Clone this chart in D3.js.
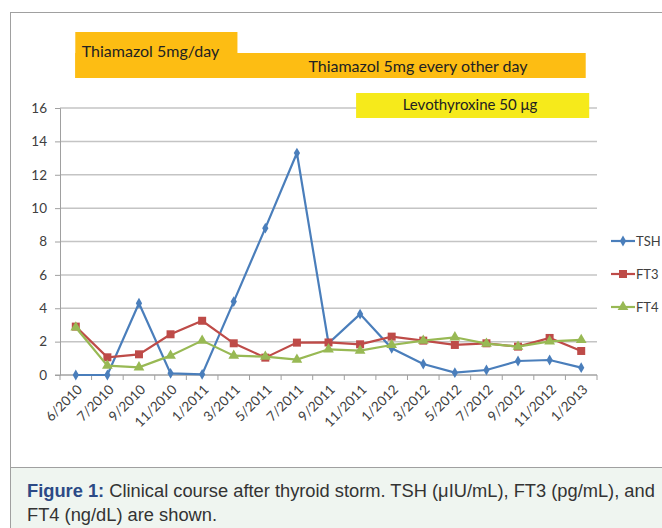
<!DOCTYPE html>
<html>
<head>
<meta charset="utf-8">
<script src="https://cdn.jsdelivr.net/npm/d3@7"></script>
<style>
  body { margin: 0; background: #fff; }
  svg text { font-family: Lato, "Open Sans", sans-serif; }
  .caption text { font-family: "Liberation Sans", Arial, sans-serif; }
</style>
</head>
<body>
<div id="chart"></div>
<script>
// ---- data ----
let months = ["6/2010", "7/2010", "9/2010", "11/2010", "1/2011", "3/2011", "5/2011", "7/2011", "9/2011",
    "11/2011", "1/2012", "3/2012", "5/2012", "7/2012", "9/2012", "11/2012", "1/2013"];
let tsh = [0.0, 0.0, 4.3, 0.1, 0.04, 4.4, 8.8, 13.3, 1.9, 3.65, 1.6, 0.66, 0.14, 0.3, 0.84, 0.9, 0.44];
let ft3 = [2.9, 1.06, 1.24, 2.44, 3.25, 1.9, 1.04, 1.94, 1.95, 1.84, 2.3, 2.06, 1.8, 1.9, 1.7, 2.22, 1.44];
let ft4 = [2.85, 0.56, 0.46, 1.16, 2.06, 1.16, 1.1, 0.92, 1.54, 1.46, 1.8, 2.06, 2.26, 1.88, 1.7, 2.02, 2.1];
let yTicks = [0, 2, 4, 6, 8, 10, 12, 14, 16];

// treatment periods (first / last month index covered)
let treatments = [
    {label: "Thiamazol 5mg/day", from: 0, to: 5, color: "#fdbd13"},
    {label: "Thiamazol 5mg every other day", from: 0, to: 16, color: "#fdbd13"},
    {label: "Levothyroxine 50 \u03bcg", from: 9, to: 16, color: "#f6ea1b"}
];

let series = [
    {name: "TSH", values: tsh, color: "#4a7ebb", shape: d3.symbolDiamond, size: 34},
    {name: "FT3", values: ft3, color: "#be4b48", shape: d3.symbolSquare, size: 64},
    {name: "FT4", values: ft4, color: "#98b954", shape: d3.symbolTriangle, size: 50}
];

let W = 662, H = 528;
let margin = {top: 108, left: 60};
let width = 537, height = 267;

let svg = d3.select("#chart").append("svg")
    .attr("width", W)
    .attr("height", H);

// outer frame
svg.append("rect")
    .attr("x", 10.5).attr("y", 12.5)
    .attr("width", W).attr("height", 455)
    .attr("fill", "#fff")
    .attr("stroke", "#a0a0a0");

let g = svg.append("g")
    .attr("transform", `translate(${margin.left}, ${margin.top})`);

// scales
let x = d3.scaleBand()
    .domain(months)
    .range([0, width]);

let y = d3.scaleLinear()
    .domain([0, 16])
    .range([height, 0]);

// gridlines
g.append("g")
    .selectAll("line")
    .data(yTicks)
    .enter()
    .append("line")
    .attr("x1", 0).attr("x2", width)
    .attr("y1", d => y(d)).attr("y2", d => y(d))
    .attr("stroke", "#c4c4c4")
    .attr("stroke-width", 1.5);

// treatment boxes (drawn in chart space with the band scale)
let boxX = (i) => x(months[i]) + x.bandwidth() / 2;
// orange: stepped shape
g.append("rect")
    .attr("x", boxX(0) - 0.5).attr("y", 32 - margin.top)
    .attr("width", x(months[treatments[0].to]) + 20 - boxX(0)).attr("height", 46)
    .attr("fill", treatments[0].color);
g.append("rect")
    .attr("x", boxX(0) - 0.5).attr("y", 53 - margin.top)
    .attr("width", boxX(treatments[1].to) + 5 - boxX(0)).attr("height", 25)
    .attr("fill", treatments[1].color);
g.append("text")
    .attr("x", boxX(0) + 6).attr("y", 57 - margin.top)
    .attr("font-size", 16).attr("fill", "#222")
    .text(treatments[0].label);
g.append("text")
    .attr("x", 418 - margin.left).attr("y", 72 - margin.top)
    .attr("text-anchor", "middle")
    .attr("font-size", 16).attr("fill", "#222")
    .text(treatments[1].label);
// yellow
g.append("rect")
    .attr("x", boxX(treatments[2].from) - 4).attr("y", 93 - margin.top)
    .attr("width", boxX(treatments[2].to) + 12 - boxX(treatments[2].from)).attr("height", 25)
    .attr("fill", treatments[2].color);
g.append("text")
    .attr("x", 470 - margin.left).attr("y", 110 - margin.top)
    .attr("text-anchor", "middle")
    .attr("font-size", 15).attr("fill", "#222")
    .text(treatments[2].label);

// axes
let yAxis = d3.axisLeft(y).tickValues(yTicks).tickSize(5).tickPadding(8);
let yAxisG = g.append("g").attr("class", "y-axis").call(yAxis);
yAxisG.select(".domain").attr("stroke", "#a0a0a0");
yAxisG.selectAll(".tick line").attr("stroke", "#a0a0a0");
yAxisG.selectAll("text").attr("font-size", 13.5).attr("fill", "#404040");

let xAxisG = g.append("g")
    .attr("class", "x-axis")
    .attr("transform", `translate(0, ${height})`);
xAxisG.append("line")
    .attr("x1", -5).attr("x2", width)
    .attr("stroke", "#a0a0a0");
xAxisG.selectAll(".tk")
    .data(months.concat(["end"]))
    .enter()
    .append("line")
    .attr("x1", (d, i) => i < months.length ? x(d) : width)
    .attr("x2", (d, i) => i < months.length ? x(d) : width)
    .attr("y1", 0).attr("y2", 5)
    .attr("stroke", "#a0a0a0");
xAxisG.selectAll(".lbl")
    .data(months)
    .enter()
    .append("text")
    .attr("text-anchor", "end")
    .attr("font-size", 13.5)
    .attr("fill", "#404040")
    .attr("transform", d => `translate(${x(d) + x.bandwidth() / 2 + 4}, 12) rotate(-45)`)
    .attr("dy", "0.35em")
    .text(d => d);

// lines + markers
let line = d3.line()
    .x((d, i) => x(months[i]) + x.bandwidth() / 2)
    .y(d => y(d));

series.forEach(s => {
    g.append("path")
        .datum(s.values)
        .attr("fill", "none")
        .attr("stroke", s.color)
        .attr("stroke-width", 2.2)
        .attr("d", line);
    g.selectAll(".m-" + s.name)
        .data(s.values)
        .enter()
        .append("path")
        .attr("d", d3.symbol().type(s.shape).size(s.size))
        .attr("transform", (d, i) => `translate(${x(months[i]) + x.bandwidth() / 2}, ${y(d)})`)
        .attr("fill", s.color);
});

// legend
let legend = svg.append("g").attr("transform", "translate(611, 241)");
series.forEach((s, i) => {
    let lg = legend.append("g").attr("transform", `translate(0, ${i * 33})`);
    lg.append("line")
        .attr("x1", 0).attr("x2", 24)
        .attr("stroke", s.color).attr("stroke-width", 2.2);
    lg.append("path")
        .attr("d", d3.symbol().type(s.shape).size(s.size))
        .attr("transform", "translate(12, 0)")
        .attr("fill", s.color);
    lg.append("text")
        .attr("x", 25).attr("dy", "0.35em")
        .attr("font-size", 13).attr("fill", "#404040")
        .text(s.name);
});

// caption
let cap = svg.append("g").attr("class", "caption");
cap.append("rect")
    .attr("x", 10.5).attr("y", 467.5)
    .attr("width", W).attr("height", 70)
    .attr("fill", "#eff5f0")
    .attr("stroke", "#a0a0a0");
let t1 = cap.append("text")
    .attr("x", 27).attr("y", 497)
    .attr("font-size", 18.3).attr("fill", "#333");
t1.append("tspan").attr("font-weight", "bold").attr("fill", "#2c4a86").text("Figure 1:");
t1.append("tspan").text(" Clinical course after thyroid storm. TSH (\u03bcIU/mL), FT3 (pg/mL), and");
cap.append("text")
    .attr("x", 27).attr("y", 521)
    .attr("font-size", 18.3).attr("fill", "#333")
    .text("FT4 (ng/dL) are shown.");
</script>
</body>
</html>
